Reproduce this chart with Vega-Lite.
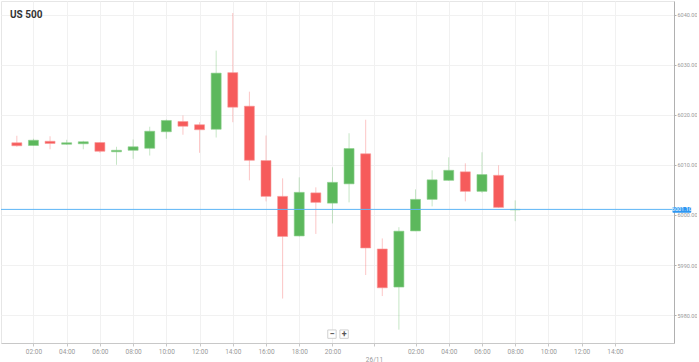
{
  "$schema": "https://vega.github.io/schema/vega-lite/v6.json",
  "width": 673,
  "height": 342,
  "padding": {"left": 0, "top": 1, "right": 0, "bottom": 0},
  "background": "white",
  "config": {
    "view": {"stroke": "#e6e6e6"},
    "font": "Roboto",
    "axis": {"gridColor": "#f1f1f1", "gridWidth": 1, "labelFont": "Roboto", "title": null},
    "axisX": {"labelOverlap": false, "labelFlush": false, "labelBound": false}
  },
  "title": {"text": "US 500", "anchor": "start", "frame": "group", "offset": -19, "dx": 9, "fontSize": 10, "fontWeight": "bold", "color": "#333333", "font": "Roboto"},
  "datasets": {
    "candles": [
      {"i": 0, "o": 6014.4, "h": 6015.8, "l": 6013.6, "c": 6013.8, "dir": "down"},
      {"i": 1, "o": 6013.85, "h": 6015.2, "l": 6013.8, "c": 6014.9, "dir": "up"},
      {"i": 2, "o": 6014.7, "h": 6015.7, "l": 6013.1, "c": 6014.25, "dir": "down"},
      {"i": 3, "o": 6014.1, "h": 6015.0, "l": 6014.0, "c": 6014.4, "dir": "up"},
      {"i": 4, "o": 6014.2, "h": 6014.8, "l": 6013.1, "c": 6014.6, "dir": "up"},
      {"i": 5, "o": 6014.45, "h": 6014.5, "l": 6012.4, "c": 6012.7, "dir": "down"},
      {"i": 6, "o": 6012.6, "h": 6013.6, "l": 6010.0, "c": 6012.9, "dir": "up"},
      {"i": 7, "o": 6012.9, "h": 6015.05, "l": 6011.2, "c": 6013.6, "dir": "up"},
      {"i": 8, "o": 6013.3, "h": 6017.6, "l": 6011.85, "c": 6016.7, "dir": "up"},
      {"i": 9, "o": 6016.6, "h": 6019.05, "l": 6015.2, "c": 6018.85, "dir": "up"},
      {"i": 10, "o": 6018.65, "h": 6019.85, "l": 6016.0, "c": 6017.7, "dir": "down"},
      {"i": 11, "o": 6018.0, "h": 6018.5, "l": 6012.4, "c": 6017.0, "dir": "down"},
      {"i": 12, "o": 6017.1, "h": 6032.8, "l": 6015.45, "c": 6028.3, "dir": "up"},
      {"i": 13, "o": 6028.4, "h": 6040.3, "l": 6018.5, "c": 6021.5, "dir": "down"},
      {"i": 14, "o": 6021.7, "h": 6024.6, "l": 6006.9, "c": 6010.9, "dir": "down"},
      {"i": 15, "o": 6010.85, "h": 6015.85, "l": 6002.7, "c": 6003.7, "dir": "down"},
      {"i": 16, "o": 6003.7, "h": 6007.3, "l": 5983.3, "c": 5995.7, "dir": "down"},
      {"i": 17, "o": 5995.8, "h": 6007.5, "l": 5995.7, "c": 6004.5, "dir": "up"},
      {"i": 18, "o": 6004.4, "h": 6005.5, "l": 5996.2, "c": 6002.5, "dir": "down"},
      {"i": 19, "o": 6002.35, "h": 6009.5, "l": 5998.3, "c": 6006.5, "dir": "up"},
      {"i": 20, "o": 6006.2, "h": 6016.3, "l": 6002.5, "c": 6013.25, "dir": "up"},
      {"i": 21, "o": 6012.2, "h": 6019.0, "l": 5988.0, "c": 5993.4, "dir": "down"},
      {"i": 22, "o": 5993.2, "h": 5995.3, "l": 5983.8, "c": 5985.45, "dir": "down"},
      {"i": 23, "o": 5985.6, "h": 5997.55, "l": 5977.1, "c": 5996.75, "dir": "up"},
      {"i": 24, "o": 5996.8, "h": 6005.1, "l": 5996.75, "c": 6003.1, "dir": "up"},
      {"i": 25, "o": 6003.1, "h": 6008.9, "l": 6001.7, "c": 6007.0, "dir": "up"},
      {"i": 26, "o": 6006.9, "h": 6011.5, "l": 6006.8, "c": 6008.9, "dir": "up"},
      {"i": 27, "o": 6008.6, "h": 6010.3, "l": 6002.7, "c": 6004.7, "dir": "down"},
      {"i": 28, "o": 6004.7, "h": 6012.5, "l": 6004.4, "c": 6008.05, "dir": "up"},
      {"i": 29, "o": 6007.9, "h": 6009.9, "l": 6001.4, "c": 6001.5, "dir": "down"},
      {"i": 30, "o": 6001.0, "h": 6002.9, "l": 5998.75, "c": 6001.1, "dir": "up"}
    ],
    "price": [{"p": 6001.1, "label": "6001.10", "x0": 39.47, "x1": 40.6, "xm": 40.03, "y0": 6001.6, "y1": 6000.45}],
    "zoomctl": [{"x": 18.97, "y": 5976.2, "s": "−"}, {"x": 19.7, "y": 5976.2, "s": "+"}]
  },
  "layer": [
    {
      "data": {"name": "candles"},
      "mark": {"type": "rule", "strokeWidth": 1, "opacity": 0.35},
      "encoding": {
        "x": {
          "field": "i", "type": "quantitative",
          "scale": {"domain": [-0.652, 39.26], "nice": false, "zero": false},
          "axis": {
            "orient": "bottom",
            "values": [1, 3, 5, 7, 9, 11, 13, 15, 17, 19, 21.5, 24, 26, 28, 30, 32, 34, 36],
            "tickCount": 100,
            "labelExpr": "datum.value == 21.5 ? ['', '26/11'] : (datum.value < 21.5 ? format(datum.value + 1, '02d') : format(datum.value - 22, '02d')) + ':00'",
            "labelFontSize": 6.5, "labelColor": "#999999", "labelPadding": 2,
            "labelOverlap": false, "labelBound": false, "labelFlush": false,
            "domainColor": "#c8c8c8", "tickColor": "#c8c8c8", "tickSize": 3,
            "grid": true, "labelLineHeight": 8
          }
        },
        "y": {
          "field": "l", "type": "quantitative",
          "scale": {"domain": [5974.43, 6042.7], "nice": false, "zero": false},
          "axis": {
            "orient": "right",
            "values": [5980, 5990, 6000, 6010, 6020, 6030, 6040],
            "tickCount": 100,
            "format": ".2f",
            "labelFontSize": 5.5, "labelColor": "#999999", "labelPadding": 1,
            "labelOverlap": false, "labelBound": false,
            "domainColor": "#b0b0b0", "tickColor": "#b0b0b0", "tickSize": 2,
            "grid": true
          }
        },
        "y2": {"field": "h"},
        "color": {"field": "dir", "type": "nominal", "scale": {"domain": ["up", "down"], "range": ["#5cb85c", "#f65b5b"]}, "legend": null}
      }
    },
    {
      "data": {"name": "candles"},
      "mark": {"type": "bar", "size": 10, "strokeWidth": 0.6},
      "encoding": {
        "x": {"field": "i", "type": "quantitative"},
        "y": {"field": "o", "type": "quantitative"},
        "y2": {"field": "c"},
        "color": {"field": "dir", "type": "nominal", "legend": null},
        "stroke": {"field": "dir", "type": "nominal", "scale": {"domain": ["up", "down"], "range": ["#8ccf8c", "#f99a9a"]}, "legend": null}
      }
    },
    {
      "data": {"name": "price"},
      "mark": {"type": "rule", "color": "#5db6f6", "strokeWidth": 1},
      "encoding": {"y": {"field": "p", "type": "quantitative"}}
    },
    {
      "data": {"name": "price"},
      "mark": {"type": "rect", "color": "#2d97f2", "cornerRadius": 1},
      "encoding": {
        "x": {"field": "x0", "type": "quantitative"},
        "x2": {"field": "x1"},
        "y": {"field": "y0", "type": "quantitative"},
        "y2": {"field": "y1"}
      }
    },
    {
      "data": {"name": "price"},
      "mark": {"type": "text", "color": "white", "fontSize": 5.5, "align": "center", "baseline": "middle"},
      "encoding": {
        "x": {"field": "xm", "type": "quantitative"},
        "y": {"field": "p", "type": "quantitative"},
        "text": {"field": "label"}
      }
    },
    {
      "data": {"name": "zoomctl"},
      "mark": {"type": "point", "shape": "square", "filled": true, "fill": "white", "stroke": "#d0d0d0", "strokeWidth": 1, "size": 70, "opacity": 1},
      "encoding": {
        "x": {"field": "x", "type": "quantitative"},
        "y": {"field": "y", "type": "quantitative"}
      }
    },
    {
      "data": {"name": "zoomctl"},
      "mark": {"type": "text", "color": "#555555", "fontSize": 9, "fontWeight": "bold", "align": "center", "baseline": "middle"},
      "encoding": {
        "x": {"field": "x", "type": "quantitative"},
        "y": {"field": "y", "type": "quantitative"},
        "text": {"field": "s"}
      }
    }
  ]
}
